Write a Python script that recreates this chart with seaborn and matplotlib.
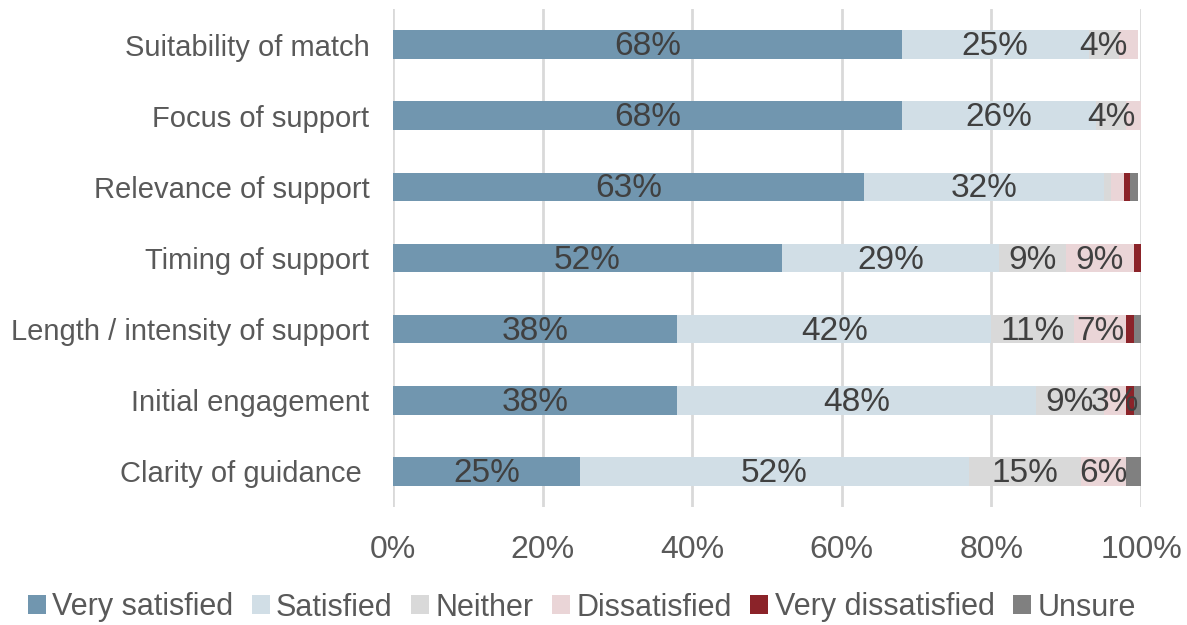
import matplotlib
matplotlib.use("Agg")
import matplotlib.pyplot as plt
import seaborn as sns
import numpy as np
import pandas as pd
from matplotlib.patches import Patch

categories = ["Suitability of match", "Focus of support", "Relevance of support",
              "Timing of support", "Length / intensity of support",
              "Initial engagement", "Clarity of guidance "]
series = ["Very satisfied", "Satisfied", "Neither", "Dissatisfied",
          "Very dissatisfied", "Unsure"]
very_satisfied = [68, 68, 63, 52, 38, 38, 25]
satisfied = [25, 26, 32, 29, 42, 48, 52]
neither = [4, 4, 1, 9, 11, 9, 15]
dissatisfied = [2.6, 2, 1.7, 9, 7, 3, 6]
very_dissatisfied = [0, 0, 0.8, 1, 1, 1, 0]
unsure = [0, 0, 1.1, 0, 1, 1, 2]
colors = ["#7196AF", "#D1DEE6", "#D9D9D9", "#EAD5D7", "#8B2329", "#808080"]
xticks = [0, 20, 40, 60, 80, 100]

sns.set_theme(style="white")
plt.rcParams['font.family'] = ['Liberation Sans', 'DejaVu Sans']

vals = np.array([very_satisfied, satisfied, neither, dissatisfied,
                 very_dissatisfied, unsure], dtype=float)
cum = np.cumsum(vals, axis=0)

fig = plt.figure(figsize=(11.87, 6.25), dpi=100)
ax = fig.add_axes([0.3311, 0.1888, 0.6302, 0.7968])

for x in xticks:
    ax.axvline(x, color="#D9D9D9", lw=2, zorder=0)

for i in range(len(series) - 1, -1, -1):
    df = pd.DataFrame({"cat": categories, "val": cum[i]})
    sns.barplot(data=df, x="val", y="cat", orient="h", color=colors[i],
                width=0.4, ax=ax, saturation=1, zorder=2, edgecolor="none")

starts = cum - vals
for i in range(len(series)):
    for j in range(len(categories)):
        v = vals[i, j]
        if v >= 3:
            ax.text(starts[i, j] + v / 2, j + 0.03, f"{round(v):.0f}%", ha="center",
                    va="center", fontsize=24, color="#404040", zorder=5)

ax.set_xlim(0, 100)
ax.set_ylim(6.5, -0.5)
ax.set_xticks(xticks)
ax.set_xticklabels([f"{x}%" for x in xticks])
ax.set_xlabel("")
ax.set_ylabel("")
ax.tick_params(axis="x", labelsize=23, colors="#595959", length=0, pad=20)
ax.tick_params(axis="y", labelsize=21, colors="#595959", length=0, pad=17)
for s in ax.spines.values():
    s.set_visible(False)

handles = [Patch(facecolor=c, edgecolor="none") for c in colors]
leg = fig.legend(handles, series, loc="center", bbox_to_anchor=(0.49, 0.028),
                 ncol=6, frameon=False, fontsize=22, handlelength=0.6,
                 handleheight=0.6, handletextpad=0.2, columnspacing=0.6,
                 borderaxespad=0)
for t in leg.get_texts():
    t.set_color("#595959")

fig.savefig("out.png", dpi=100)
